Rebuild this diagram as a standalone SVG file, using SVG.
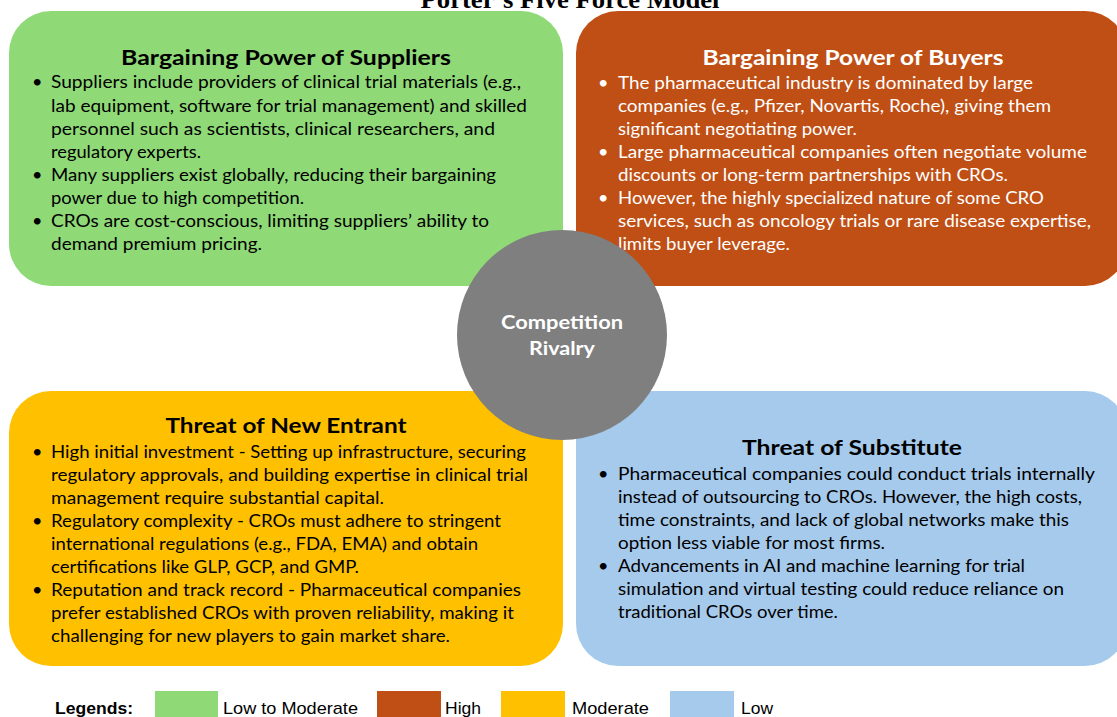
<svg xmlns="http://www.w3.org/2000/svg" width="1117" height="717" viewBox="0 0 1117 717">
<style>
.t{font-family:Lato,"Liberation Sans",sans-serif;font-size:18px;fill:#000}
.w{fill:#fff}
.h{font-family:Lato,"Liberation Sans",sans-serif;font-size:21px;font-weight:bold;text-anchor:middle;fill:#000}
.hw{fill:#fff}
.c{font-family:Lato,"Liberation Sans",sans-serif;font-size:19px;font-weight:bold;text-anchor:middle;fill:#fff}
.lg{font-family:"Liberation Sans",Arial,sans-serif;font-size:17px;fill:#000}
</style>
<rect width="1117" height="717" fill="#fff"/>
<text x="570" y="8" font-family="Liberation Serif,Times New Roman,serif" font-size="26" font-weight="bold" text-anchor="middle" textLength="299" lengthAdjust="spacingAndGlyphs">Porter’s Five Force Model</text>

<g id="suppliers">
<rect x="9" y="11" width="554" height="275" rx="42" fill="#8FD977"/>
<text class="h" x="286" y="65" textLength="330" lengthAdjust="spacingAndGlyphs">Bargaining Power of Suppliers</text>
<g class="t" >
<text x="32" y="88">•</text><text x="32" y="181">•</text><text x="32" y="227">•</text>
<text x="51" y="88" textLength="470" lengthAdjust="spacingAndGlyphs">Suppliers include providers of clinical trial materials (e.g.,</text>
<text x="51" y="112" textLength="476" lengthAdjust="spacingAndGlyphs">lab equipment, software for trial management) and skilled</text>
<text x="51" y="135" textLength="444" lengthAdjust="spacingAndGlyphs">personnel such as scientists, clinical researchers, and</text>
<text x="51" y="158" textLength="150" lengthAdjust="spacingAndGlyphs">regulatory experts.</text>
<text x="51" y="181" textLength="445" lengthAdjust="spacingAndGlyphs">Many suppliers exist globally, reducing their bargaining</text>
<text x="51" y="204" textLength="253" lengthAdjust="spacingAndGlyphs">power due to high competition.</text>
<text x="51" y="227" textLength="438" lengthAdjust="spacingAndGlyphs">CROs are cost-conscious, limiting suppliers’ ability to</text>
<text x="51" y="250" textLength="211" lengthAdjust="spacingAndGlyphs">demand premium pricing.</text>
</g>
</g>

<g id="buyers">
<rect x="576" y="11" width="551" height="275" rx="42" fill="#C04F15"/>
<text class="h hw" x="853" y="65" textLength="301" lengthAdjust="spacingAndGlyphs">Bargaining Power of Buyers</text>
<g class="t w">
<text x="598" y="89">•</text><text x="598" y="158">•</text><text x="598" y="204">•</text>
<text x="618" y="89" textLength="415" lengthAdjust="spacingAndGlyphs">The pharmaceutical industry is dominated by large</text>
<text x="618" y="112" textLength="433" lengthAdjust="spacingAndGlyphs">companies (e.g., Pfizer, Novartis, Roche), giving them</text>
<text x="618" y="135" textLength="239" lengthAdjust="spacingAndGlyphs">significant negotiating power.</text>
<text x="618" y="158" textLength="469" lengthAdjust="spacingAndGlyphs">Large pharmaceutical companies often negotiate volume</text>
<text x="618" y="181" textLength="390" lengthAdjust="spacingAndGlyphs">discounts or long-term partnerships with CROs.</text>
<text x="618" y="204" textLength="426" lengthAdjust="spacingAndGlyphs">However, the highly specialized nature of some CRO</text>
<text x="618" y="227" textLength="473" lengthAdjust="spacingAndGlyphs">services, such as oncology trials or rare disease expertise,</text>
<text x="618" y="250" textLength="172" lengthAdjust="spacingAndGlyphs">limits buyer leverage.</text>
</g>
</g>

<g id="new-entrant">
<rect x="9" y="391" width="554" height="275" rx="42" fill="#FFC000"/>
<text class="h" x="286" y="433" textLength="241" lengthAdjust="spacingAndGlyphs">Threat of New Entrant</text>
<g class="t">
<text x="32" y="458">•</text><text x="32" y="527">•</text><text x="32" y="596">•</text>
<text x="51" y="458" textLength="475" lengthAdjust="spacingAndGlyphs">High initial investment - Setting up infrastructure, securing</text>
<text x="51" y="481" textLength="477" lengthAdjust="spacingAndGlyphs">regulatory approvals, and building expertise in clinical trial</text>
<text x="51" y="504" textLength="333" lengthAdjust="spacingAndGlyphs">management require substantial capital.</text>
<text x="51" y="527" textLength="450" lengthAdjust="spacingAndGlyphs">Regulatory complexity - CROs must adhere to stringent</text>
<text x="51" y="550" textLength="427" lengthAdjust="spacingAndGlyphs">international regulations (e.g., FDA, EMA) and obtain</text>
<text x="51" y="573" textLength="308" lengthAdjust="spacingAndGlyphs">certifications like GLP, GCP, and GMP.</text>
<text x="51" y="596" textLength="470" lengthAdjust="spacingAndGlyphs">Reputation and track record - Pharmaceutical companies</text>
<text x="51" y="619" textLength="463" lengthAdjust="spacingAndGlyphs">prefer established CROs with proven reliability, making it</text>
<text x="51" y="642" textLength="399" lengthAdjust="spacingAndGlyphs">challenging for new players to gain market share.</text>
</g>
</g>

<g id="substitute">
<rect x="576" y="391" width="551" height="275" rx="42" fill="#A6CAEC"/>
<text class="h" x="852" y="455" textLength="220" lengthAdjust="spacingAndGlyphs">Threat of Substitute</text>
<g class="t">
<text x="598" y="480">•</text><text x="598" y="572">•</text>
<text x="618" y="480" textLength="477" lengthAdjust="spacingAndGlyphs">Pharmaceutical companies could conduct trials internally</text>
<text x="618" y="503" textLength="464" lengthAdjust="spacingAndGlyphs">instead of outsourcing to CROs. However, the high costs,</text>
<text x="618" y="526" textLength="451" lengthAdjust="spacingAndGlyphs">time constraints, and lack of global networks make this</text>
<text x="618" y="549" textLength="267" lengthAdjust="spacingAndGlyphs">option less viable for most firms.</text>
<text x="618" y="572" textLength="407" lengthAdjust="spacingAndGlyphs">Advancements in AI and machine learning for trial</text>
<text x="618" y="595" textLength="446" lengthAdjust="spacingAndGlyphs">simulation and virtual testing could reduce reliance on</text>
<text x="618" y="618" textLength="220" lengthAdjust="spacingAndGlyphs">traditional CROs over time.</text>
</g>
</g>

<g id="rivalry">
<circle cx="562" cy="335" r="105" fill="#7F7F7F"/>
<text class="c" x="562" y="329" textLength="122" lengthAdjust="spacingAndGlyphs">Competition</text>
<text class="c" x="562" y="355" textLength="66" lengthAdjust="spacingAndGlyphs">Rivalry</text>
</g>

<g id="legend">
<text class="lg" x="55" y="714" font-weight="bold" textLength="78" lengthAdjust="spacingAndGlyphs">Legends:</text>
<rect x="155" y="691" width="63" height="30" fill="#8FD977"/>
<text class="lg" x="223" y="714" textLength="135" lengthAdjust="spacingAndGlyphs">Low to Moderate</text>
<rect x="377" y="691" width="64" height="30" fill="#C04F15"/>
<text class="lg" x="445" y="714" textLength="36" lengthAdjust="spacingAndGlyphs">High</text>
<rect x="501" y="691" width="64" height="30" fill="#FFC000"/>
<text class="lg" x="572" y="714" textLength="77" lengthAdjust="spacingAndGlyphs">Moderate</text>
<rect x="670" y="691" width="64" height="30" fill="#A6CAEC"/>
<text class="lg" x="741" y="714" textLength="32" lengthAdjust="spacingAndGlyphs">Low</text>
</g>
</svg>
